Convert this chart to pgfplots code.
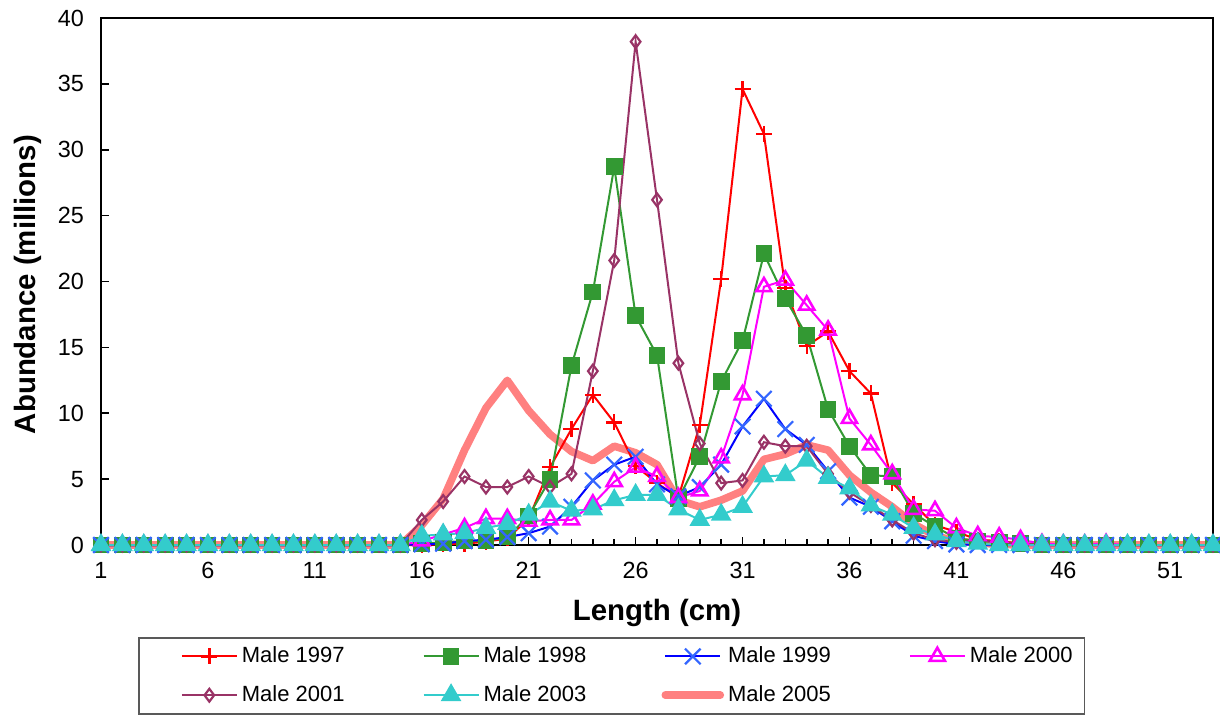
\documentclass[border=0pt]{standalone}
\usepackage{fontspec}
\setmainfont{Liberation Sans}
\usepackage{pgfplots}
\usepackage{pgfplotstable}
\pgfplotsset{compat=1.18}
\definecolor{c97}{HTML}{FF0000}
\definecolor{c98}{HTML}{339933}
\definecolor{c99}{HTML}{0000FF}
\definecolor{c99m}{HTML}{3366FF}
\definecolor{c00}{HTML}{FF00FF}
\definecolor{c01}{HTML}{993366}
\definecolor{c03}{HTML}{33CCCC}
\definecolor{c05}{HTML}{FF8080}

% abundance by length class, millions
\pgfplotstableread{
L  r97   g98   b99   m00   d01   c03   s05
1  0     0     0     0     0     0     0
2  0     0     0     0     0     0     0
3  0     0     0     0     0     0     0
4  0     0     0     0     0     0     0
5  0     0     0     0     0     0     0
6  0     0     0     0     0     0     0
7  0     0     0     0     0     0     0
8  0     0     0     0     0     0     0
9  0     0     0     0     0     0     0
10 0     0     0     0     0     0     0
11 0     0     0     0     0     0     0
12 0     0     0     0     0     0     0
13 0     0     0     0     0     0     0
14 0     0     0     0     0     0     0
15 0     0     0     0     0     0     0
16 0     0.1   0.05  0.3   1.9   0.7   1.5
17 0.05  0.2   0.1   0.8   3.3   0.8   3.5
18 0.1   0.3   0.3   1.3   5.2   0.9   7.2
19 0.25  0.3   0.4   2.0   4.4   1.3   10.4
20 0.5   0.6   0.6   2.0   4.4   1.6   12.5
21 2.0   2.2   0.9   1.8   5.2   2.3   10.2
22 5.9   5.0   1.4   1.9   4.4   3.3   8.4
23 8.8   13.6  2.9   1.9   5.4   2.6   7.1
24 11.4  19.2  4.9   3.1   13.2  2.7   6.4
25 9.3   28.7  6.1   4.8   21.6  3.4   7.5
26 6.0   17.4  6.7   5.9   38.2  3.8   7.0
27 4.7   14.4  4.6   5.2   26.2  3.8   6.1
28 3.6   3.5   3.7   3.6   13.8  2.7   3.4
29 9.1   6.7   4.4   4.1   7.7   1.9   2.9
30 20.2  12.4  6.1   6.6   4.7   2.3   3.4
31 34.6  15.5  9.0   11.4  4.9   2.9   4.1
32 31.2  22.1  11.1  19.6  7.8   5.2   6.5
33 19.5  18.7  8.8   20.1  7.5   5.3   6.9
34 15.1  15.9  7.6   18.2  7.5   6.4   7.6
35 16.2  10.3  5.6   16.3  5.4   5.1   7.2
36 13.2  7.5   3.6   9.6   4.0   4.3   5.3
37 11.5  5.3   2.9   7.6   3.0   3.0   4.0
38 4.7   5.2   1.8   5.4   1.9   2.3   2.9
39 3.1   2.4   0.7   2.7   0.9   1.3   1.6
40 1.5   1.4   0.3   2.6   0.4   0.8   0.7
41 1.0   0.5   0.05  1.3   0.2   0.3   0.3
42 0.4   0.3   0     0.7   0.4   0.1   0.15
43 0.3   0.2   0     0.6   0.2   0     0.05
44 0.1   0.1   0     0.4   0.1   0     0
45 0     0     0     0.1   0     0     0
46 0     0     0     0.05  0     0     0
47 0     0     0     0.05  0     0     0
48 0     0     0     0.1   0     0     0
49 0     0     0     0     0     0     0
50 0     0     0     0     0     0     0
51 0     0     0     0     0     0     0
52 0     0     0     0     0     0     0
53 0     0     0     0     0     0     0
}\abund

\begin{document}
\begin{tikzpicture}
\useasboundingbox (-50.5pt,-86pt) rectangle (559.5pt,272.5pt);
\begin{axis}[
  scale only axis, width=556pt, height=263.5pt,
  xmin=1, xmax=53, ymin=0, ymax=40,
  xtick={1,6,...,51}, minor xtick={1,...,53}, ytick={0,5,...,40},
  xtick pos=bottom, ytick pos=left, tick align=inside,
  major tick length=4pt, minor tick length=3pt,
  tick style={black, line width=0.8pt},
  axis line style={line width=1.2pt},
  clip=false,
  /pgf/number format/assume math mode=true,
  ticklabel style={font=\fontsize{11.7}{14}\selectfont},
  yticklabel style={xshift=-5pt},
  xticklabel style={yshift=-5pt},
  xlabel={Length (cm)}, ylabel={Abundance (millions)},
  label style={font=\fontsize{14.7}{17}\selectfont\bfseries},
  xlabel style={at={(axis description cs:0.5,-0.129)}, anchor=center},
  ylabel style={at={(axis description cs:-0.0653,0.494)}, anchor=center},
  legend image code/.code={
    \path[draw=none, fill=none] (0pt,0pt) -- (17.5pt,0pt);
    \draw[mark repeat=2,mark phase=2] plot coordinates {(17.5pt,0pt) (31.25pt,0pt) (45pt,0pt)};},
  legend columns=4,
  legend cell align=left,
  legend style={at={(axis description cs:0.0333,-0.1746)}, anchor=north west,
    draw=black!65, line width=0.8pt, font=\fontsize{11}{13}\selectfont,
    inner xsep=4pt, inner ysep=2.6pt, row sep=5.9pt,
    /tikz/every odd column/.append style={column sep=0pt},
    /tikz/every even column/.append style={column sep=20pt}},
]
\addplot[c05, line width=3.8pt, line join=round, line cap=round, forget plot]
  table[x=L, y=s05]{\abund};
\addplot[c97, line width=1pt, mark=+, mark size=4pt, mark options={line width=1.2pt}]
  table[x=L, y=r97]{\abund};
\addlegendentry{Male 1997}
\addplot[c98, line width=1pt, mark=square*, mark size=3.7pt]
  table[x=L, y=g98]{\abund};
\addlegendentry{Male 1998}
\addplot[c99, line width=1pt, mark=x, mark size=5.5pt, mark options={draw=c99m, line width=1.1pt}]
  table[x=L, y=b99]{\abund};
\addlegendentry{Male 1999}
\addplot[c00, line width=1pt, mark=triangle, mark size=4.4pt, mark options={line width=1.3pt}]
  table[x=L, y=m00]{\abund};
\addlegendentry{Male 2000}
\addplot[c01, line width=1pt, mark=diamond, mark size=3.2pt, mark options={line width=1.1pt}]
  table[x=L, y=d01]{\abund};
\addlegendentry{Male 2001}
\addplot[c03, line width=1pt, mark=triangle*, mark size=5pt]
  table[x=L, y=c03]{\abund};
\addlegendentry{Male 2003}
\addlegendimage{c05, line width=3.8pt, line cap=round, no marks}
\addlegendentry{Male 2005}
\end{axis}
\end{tikzpicture}
\end{document}
